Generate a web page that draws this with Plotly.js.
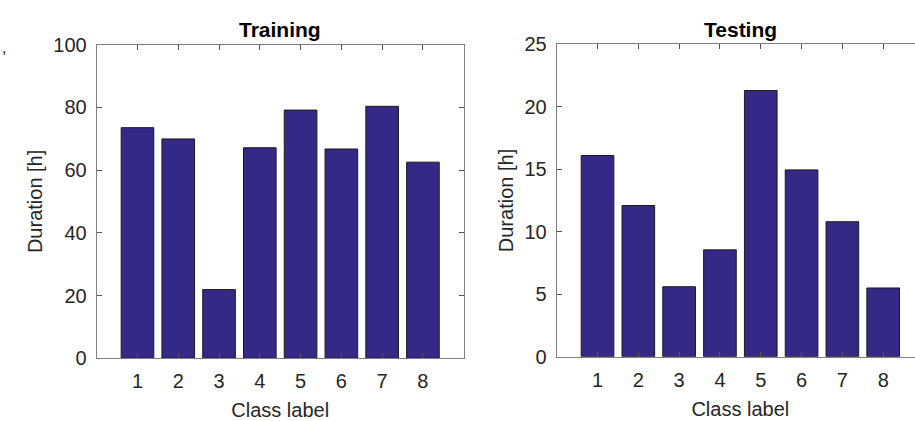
<!DOCTYPE html>
<html>
<head>
<meta charset="utf-8">
<script src="https://cdn.plot.ly/plotly-3.0.1.min.js"></script>
<style>
html,body{margin:0;padding:0;overflow:hidden;background:#fff;}
#chart{width:924px;height:421px;}
</style>
</head>
<body>
<div id="chart"></div>
<script>
const classLabels = [1, 2, 3, 4, 5, 6, 7, 8];
const trainingHours = [73.5, 69.9, 21.9, 67.1, 79.1, 66.7, 80.3, 62.5];
const testingHours = [16.1, 12.1, 5.6, 8.55, 21.3, 14.95, 10.8, 5.5];
const trainingTicks = [0, 20, 40, 60, 80, 100];
const testingTicks = [0, 5, 10, 15, 20, 25];

const W = 924, H = 421;
const barColor = '#342987';
const axisColor = '#808080';
const textColor = '#262626';
const fontFam = 'Liberation Sans, Arial, sans-serif';

const bar = (y, xa, ya) => ({
  type: 'bar', x: classLabels, y: y, xaxis: xa, yaxis: ya,
  width: 0.8,
  marker: {color: barColor, line: {color: '#1a1a1a', width: 1}},
  hoverinfo: 'x+y', showlegend: false
});

const xax = (domain, anchor) => ({
  domain: domain, anchor: anchor, range: [0, 9],
  tickvals: classLabels, ticktext: classLabels.map(String),
  ticks: 'inside', ticklen: 5, tickcolor: '#555', tickwidth: 1,
  mirror: 'allticks', showline: true, linecolor: axisColor, linewidth: 1,
  showgrid: false, zeroline: false, fixedrange: true,
  ticklabelstandoff: 5,
  tickfont: {family: fontFam, size: 20, color: textColor},
  title: {text: 'Class label', font: {family: fontFam, size: 20, color: textColor}, standoff: 12},
  automargin: false
});

const yax = (domain, anchor, maxv, ticks) => ({
  domain: domain, anchor: anchor, range: [0, maxv],
  tickvals: ticks, ticktext: ticks.map(String),
  ticks: 'inside', ticklen: 5, tickcolor: '#555', tickwidth: 1,
  mirror: 'allticks', showline: true, linecolor: axisColor, linewidth: 1,
  showgrid: false, zeroline: false, fixedrange: true,
  ticklabelstandoff: 5,
  tickfont: {family: fontFam, size: 20, color: textColor},
  title: {text: 'Duration [h]', font: {family: fontFam, size: 20, color: textColor}, standoff: 5},
  automargin: false
});

const layout = {
  width: W, height: H,
  margin: {l: 0, r: 0, t: 0, b: 0, pad: 0},
  paper_bgcolor: '#ffffff', plot_bgcolor: '#ffffff',
  bargap: 0,
  xaxis: xax([96.7 / W, 463.7 / W], 'y'),
  yaxis: yax([1 - 358.3 / H, 1 - 44.5 / H], 'x', 100, trainingTicks),
  xaxis2: xax([556.7 / W, 1], 'y2'),
  yaxis2: yax([1 - 356.7 / H, 1 - 44.3 / H], 'x2', 25, testingTicks),
  annotations: [
    {text: '<b>Training</b>', xref: 'paper', yref: 'paper', x: 280.2 / W, y: 1 - 29 / H,
     xanchor: 'center', yanchor: 'middle', showarrow: false,
     font: {family: fontFam, size: 21, color: '#000'}},
    {text: '<b>Testing</b>', xref: 'paper', yref: 'paper', x: 740.2 / W, y: 1 - 29 / H,
     xanchor: 'center', yanchor: 'middle', showarrow: false,
     font: {family: fontFam, size: 21, color: '#000'}},
    {text: ',', xref: 'paper', yref: 'paper', x: 0, y: 1 - 47 / H,
     xanchor: 'left', yanchor: 'middle', showarrow: false,
     font: {family: fontFam, size: 16, color: textColor}}
  ]
};

Plotly.newPlot('chart', [bar(trainingHours, 'x', 'y'), bar(testingHours, 'x2', 'y2')], layout,
  {displayModeBar: false, staticPlot: true});
</script>
</body>
</html>
